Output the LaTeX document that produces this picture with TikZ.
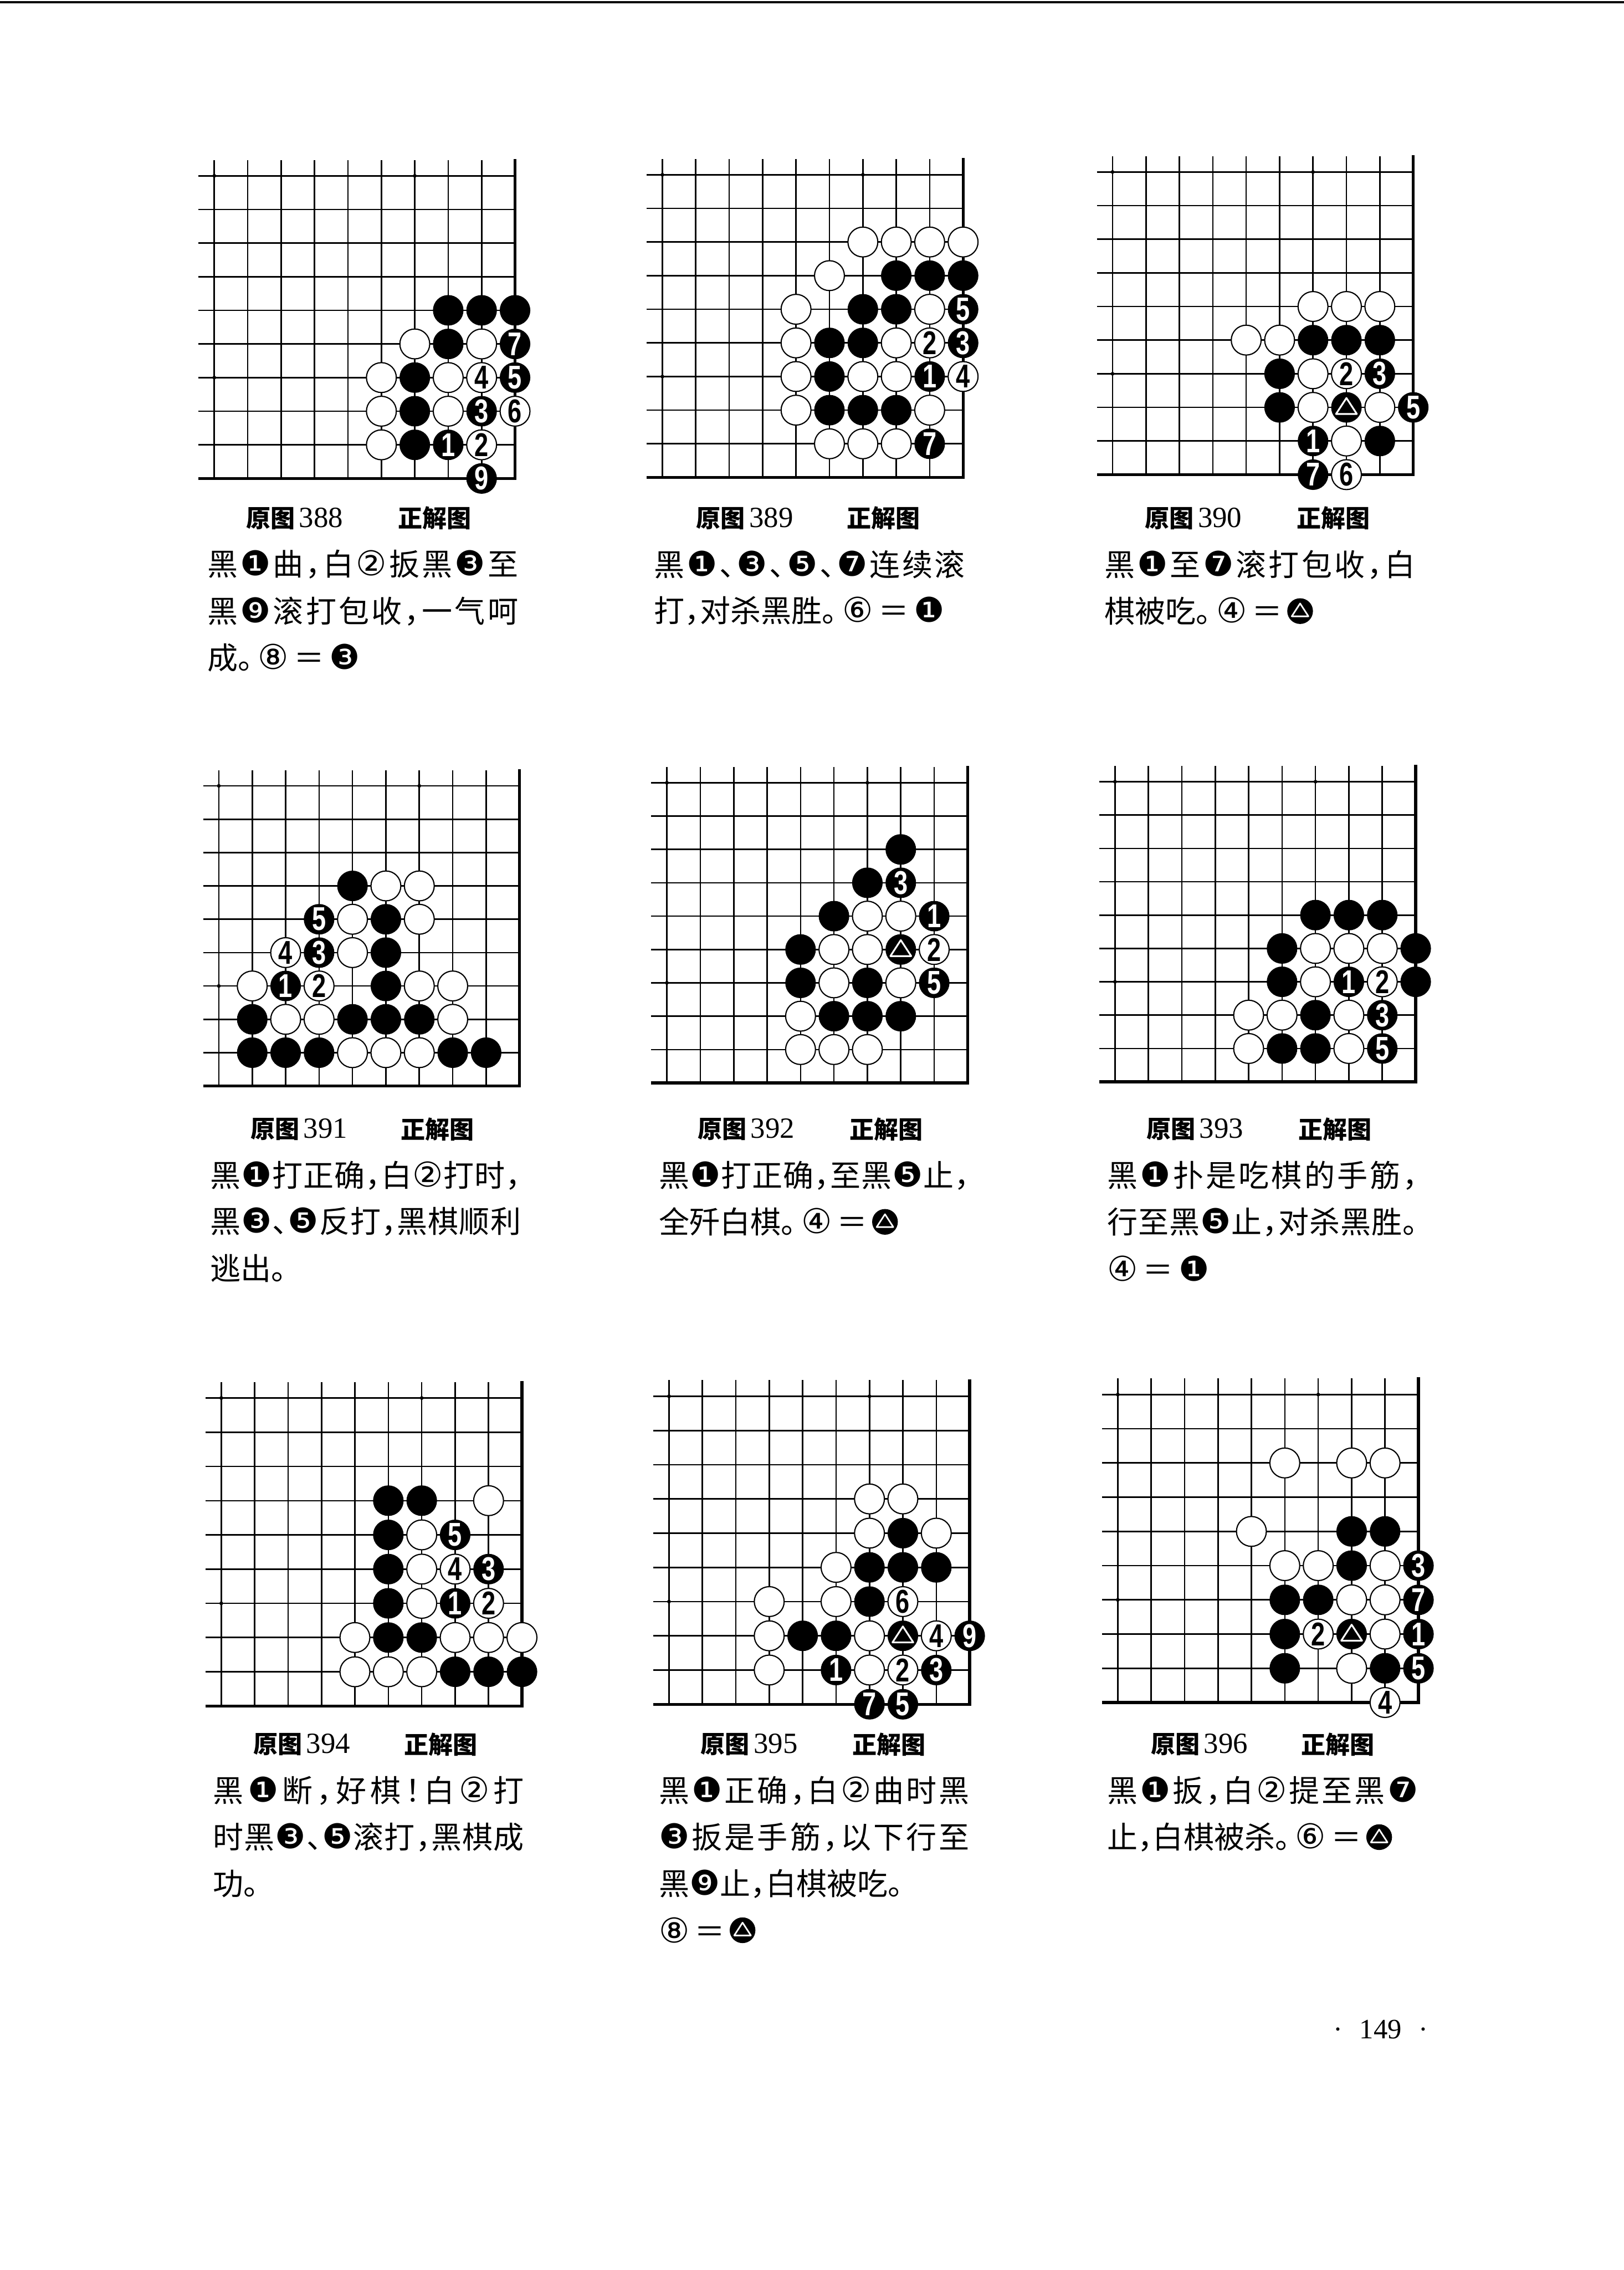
\documentclass[tikz,border=0pt]{standalone}
\usepackage{fontspec}
\setmainfont{Liberation Serif}
\newfontfamily\cjk[RawFeature=+halt]{Noto Sans CJK SC}
\newfontfamily\sym{DejaVu Sans}
\newfontfamily\numfont[FakeStretch=0.76]{Liberation Sans}
\usetikzlibrary{positioning}
\newcommand{\Bn}[1]{{\sym\fontsize{28}{25}\selectfont#1}}
% circled move numbers in the text, one token each
\newcommand{\kA}{\Bn{❶}}
\newcommand{\kC}{\Bn{❸}}
\newcommand{\kE}{\Bn{❺}}
\newcommand{\kG}{\Bn{❼}}
\newcommand{\kI}{\Bn{❾}}
\newcommand{\wB}{\Bn{②}}
\newcommand{\wD}{\Bn{④}}
\newcommand{\wF}{\Bn{⑥}}
\newcommand{\wH}{\Bn{⑧}}
\newcommand{\capnum}{\rmfamily\mdseries\fontsize{24}{24}\selectfont}
% full text line, spread to the column width
\def\spreadit#1{#1\spreadnext}
\def\spreadnext#1{\ifx#1\relax\else\hfil#1\expandafter\spreadnext\fi}
\newcommand{\jline}[1]{\makebox[8.95cm][s]{\spreadit#1\relax}}
% one corner of the board: 10x10 lines, edge on the right and bottom
\newcommand{\goboard}{%
  \foreach \i in {0,...,8} {
    \draw[gline] (\i,-0.47) -- (\i,9);
    \draw[gline] (-0.47,\i) -- (9,\i);
  }
  \draw[eline] (9,-0.5) -- (9,9) -- (-0.47,9);
  \foreach \p/\q in {0/0,6/0,0/6,6/6} \fill (\p,\q) circle (0.055);
}

\begin{document}
\begin{tikzpicture}[x=1cm, y=-1cm,
  gline/.style={line width=0.042cm},
  eline/.style={line width=0.085cm},
  bst/.style={circle, fill=black, minimum size=0.88cm, inner sep=0pt,
    text=white, font=\numfont\bfseries\fontsize{27}{27}\selectfont},
  wst/.style={circle, draw=black, fill=white, line width=0.034cm,
    minimum size=0.86cm, inner sep=0pt,
    font=\numfont\bfseries\fontsize{27}{27}\selectfont},
  tst/.style={bst, path picture={\draw[white, line width=0.05cm, line join=round]
    ([yshift=0.27cm]path picture bounding box.center) -- ++(-0.3cm,-0.46cm)
    -- ++(0.6cm,0cm) -- cycle;}},
  tmk/.style={circle, fill=black, minimum size=0.74cm, inner sep=0pt,
    path picture={\draw[white, line width=0.045cm, line join=round]
    ([yshift=0.22cm]path picture bounding box.center) -- ++(-0.24cm,-0.37cm)
    -- ++(0.48cm,0cm) -- cycle;}},
  txt/.style={anchor=west, inner sep=0pt, font=\cjk\fontsize{25}{25}\selectfont},
  capt/.style={anchor=west, inner sep=0pt, font=\cjk\bfseries\fontsize{20}{20}\selectfont}]

\useasboundingbox (0,0) rectangle (46.75,65.34);
\draw[line width=0.06cm] (0,0.06) -- (46.75,0.06);

% ===== 388 =====
\begin{scope}[shift={(6.17,5.06)}, x=0.962cm, y=-0.968cm]
\goboard
\foreach \c/\r in {7/4,8/4,9/4,7/5,6/6,6/7,6/8}
  \node[bst] (k388-\c-\r) at (\c,\r) {};
\foreach \c/\r/\n in {9/5/7,9/6/5,8/7/3,7/8/1,8/9/9}
  \node[bst] (k388-\c-\r) at (\c,\r) {\n};
\foreach \c/\r in {6/5,8/5,5/6,7/6,5/7,7/7,5/8}
  \node[wst] (w388-\c-\r) at (\c,\r) {};
\foreach \c/\r/\n in {8/6/4,9/7/6,8/8/2}
  \node[wst] (w388-\c-\r) at (\c,\r) {\n};
\end{scope}

% ===== 389 =====
\begin{scope}[shift={(19.07,5.03)}, x=0.962cm, y=-0.968cm]
\goboard
\foreach \c/\r in {7/3,8/3,9/3,6/4,7/4,5/5,6/5,5/6,5/7,6/7,7/7}
  \node[bst] (k389-\c-\r) at (\c,\r) {};
\foreach \c/\r/\n in {9/4/5,9/5/3,8/6/1,8/8/7}
  \node[bst] (k389-\c-\r) at (\c,\r) {\n};
\foreach \c/\r in {6/2,7/2,8/2,9/2,5/3,4/4,8/4,4/5,7/5,4/6,6/6,7/6,4/7,8/7,5/8,6/8,7/8}
  \node[wst] (w389-\c-\r) at (\c,\r) {};
\foreach \c/\r/\n in {8/5/2,9/6/4}
  \node[wst] (w389-\c-\r) at (\c,\r) {\n};
\end{scope}

% ===== 390 =====
\begin{scope}[shift={(32.03,4.95)}, x=0.962cm, y=-0.968cm]
\goboard
\foreach \c/\r in {6/5,7/5,8/5,5/6,5/7,8/8}
  \node[bst] (k390-\c-\r) at (\c,\r) {};
\foreach \c/\r/\n in {8/6/3,9/7/5,6/8/1,6/9/7}
  \node[bst] (k390-\c-\r) at (\c,\r) {\n};
\node[tst] (k390-7-7) at (7,7) {};
\foreach \c/\r in {6/4,7/4,8/4,4/5,5/5,6/6,6/7,8/7,7/8}
  \node[wst] (w390-\c-\r) at (\c,\r) {};
\foreach \c/\r/\n in {7/6/2,7/9/6}
  \node[wst] (w390-\c-\r) at (\c,\r) {\n};
\end{scope}

% ===== 391 =====
\begin{scope}[shift={(6.30,22.62)}, x=0.962cm, y=-0.96cm]
\goboard
\foreach \c/\r in {4/3,5/4,5/5,5/6,1/7,4/7,5/7,6/7,1/8,2/8,3/8,7/8,8/8}
  \node[bst] (k391-\c-\r) at (\c,\r) {};
\foreach \c/\r/\n in {3/4/5,3/5/3,2/6/1}
  \node[bst] (k391-\c-\r) at (\c,\r) {\n};
\foreach \c/\r in {5/3,6/3,4/4,6/4,4/5,1/6,6/6,7/6,2/7,3/7,7/7,4/8,5/8,6/8}
  \node[wst] (w391-\c-\r) at (\c,\r) {};
\foreach \c/\r/\n in {2/5/4,3/6/2}
  \node[wst] (w391-\c-\r) at (\c,\r) {\n};
\end{scope}

% ===== 392 =====
\begin{scope}[shift={(19.20,22.53)}, x=0.962cm, y=-0.96cm]
\goboard
\foreach \c/\r in {7/2,6/3,5/4,4/5,4/6,6/6,5/7,6/7,7/7}
  \node[bst] (k392-\c-\r) at (\c,\r) {};
\foreach \c/\r/\n in {7/3/3,8/4/1,8/6/5}
  \node[bst] (k392-\c-\r) at (\c,\r) {\n};
\node[tst] (k392-7-5) at (7,5) {};
\foreach \c/\r in {6/4,7/4,5/5,6/5,5/6,7/6,4/7,4/8,5/8,6/8}
  \node[wst] (w392-\c-\r) at (\c,\r) {};
\node[wst] (w392-8-5) at (8,5) {2};
\end{scope}

% ===== 393 =====
\begin{scope}[shift={(32.10,22.50)}, x=0.962cm, y=-0.96cm]
\goboard
\foreach \c/\r in {6/4,7/4,8/4,5/5,9/5,5/6,9/6,6/7,5/8,6/8}
  \node[bst] (k393-\c-\r) at (\c,\r) {};
\foreach \c/\r/\n in {7/6/1,8/7/3,8/8/5}
  \node[bst] (k393-\c-\r) at (\c,\r) {\n};
\foreach \c/\r in {6/5,7/5,8/5,6/6,4/7,5/7,7/7,4/8,7/8}
  \node[wst] (w393-\c-\r) at (\c,\r) {};
\node[wst] (w393-8-6) at (8,6) {2};
\end{scope}

% ===== 394 =====
\begin{scope}[shift={(6.37,40.24)}, x=0.962cm, y=-0.985cm]
\goboard
\foreach \c/\r in {5/3,6/3,5/4,5/5,5/6,5/7,6/7,7/8,8/8,9/8}
  \node[bst] (k394-\c-\r) at (\c,\r) {};
\foreach \c/\r/\n in {7/4/5,8/5/3,7/6/1}
  \node[bst] (k394-\c-\r) at (\c,\r) {\n};
\foreach \c/\r in {8/3,6/4,6/5,6/6,4/7,7/7,8/7,9/7,4/8,5/8,6/8}
  \node[wst] (w394-\c-\r) at (\c,\r) {};
\foreach \c/\r/\n in {7/5/4,8/6/2}
  \node[wst] (w394-\c-\r) at (\c,\r) {\n};
\end{scope}

% ===== 395 =====
\begin{scope}[shift={(19.26,40.19)}, x=0.962cm, y=-0.985cm]
\goboard
\foreach \c/\r in {7/4,6/5,7/5,8/5,6/6,4/7,5/7}
  \node[bst] (k395-\c-\r) at (\c,\r) {};
\foreach \c/\r/\n in {9/7/9,5/8/1,8/8/3,6/9/7,7/9/5}
  \node[bst] (k395-\c-\r) at (\c,\r) {\n};
\node[tst] (k395-7-7) at (7,7) {};
\foreach \c/\r in {6/3,7/3,6/4,8/4,5/5,3/6,5/6,3/7,6/7,3/8,6/8}
  \node[wst] (w395-\c-\r) at (\c,\r) {};
\foreach \c/\r/\n in {7/6/6,8/7/4,7/8/2}
  \node[wst] (w395-\c-\r) at (\c,\r) {\n};
\end{scope}

% ===== 396 =====
\begin{scope}[shift={(32.18,40.14)}, x=0.962cm, y=-0.985cm]
\goboard
\foreach \c/\r in {7/4,8/4,7/5,5/6,6/6,5/7,5/8,8/8}
  \node[bst] (k396-\c-\r) at (\c,\r) {};
\foreach \c/\r/\n in {9/5/3,9/6/7,9/7/1,9/8/5}
  \node[bst] (k396-\c-\r) at (\c,\r) {\n};
\node[tst] (k396-7-7) at (7,7) {};
\foreach \c/\r in {5/2,7/2,8/2,4/4,5/5,6/5,8/5,7/6,8/6,8/7,7/8}
  \node[wst] (w396-\c-\r) at (\c,\r) {};
\foreach \c/\r/\n in {6/7/2,8/9/4}
  \node[wst] (w396-\c-\r) at (\c,\r) {\n};
\end{scope}

% ===== captions, row 1 =====
\node[capt] (c388) at (7.08,14.92) {原图\,{\capnum 388}};
\node[capt] (s388) at (11.46,14.92) {正解图};
\node[txt] (t388a) at (5.96,16.25) {\jline{黑\kA 曲，白\wB 扳黑\kC 至}};
\node[txt] (t388b) at (5.96,17.59) {\jline{黑\kI 滚打包收，一气呵}};
\node[txt] (t388c) at (5.96,18.93) {成。\,\wH\,＝\,\kC};

\node[capt] (c389) at (20.04,14.92) {原图\,{\capnum 389}};
\node[capt] (s389) at (24.37,14.92) {正解图};
\node[txt] (t389a) at (18.83,16.25) {\jline{黑\kA 、\kC 、\kE 、\kG 连续滚}};
\node[txt] (t389b) at (18.83,17.59) {打，对杀黑胜。\,\wF\,＝\,\kA};

\node[capt] (c390) at (32.96,14.92) {原图\,{\capnum 390}};
\node[capt] (s390) at (37.33,14.92) {正解图};
\node[txt] (t390a) at (31.79,16.25) {\jline{黑\kA 至\kG 滚打包收，白}};
\node[txt] (t390b) at (31.79,17.59) {棋被吃。\,\wD\,＝};
\node[tmk, right=0.12cm of t390b] (m390) {};

% ===== captions, row 2 =====
\node[capt] (c391) at (7.21,32.50) {原图\,{\capnum 391}};
\node[capt] (s391) at (11.54,32.50) {正解图};
\node[txt] (t391a) at (6.04,33.83) {\jline{黑\kA 打正确，白\wB 打时，}};
\node[txt] (t391b) at (6.04,35.17) {\jline{黑\kC 、\kE 反打，黑棋顺利}};
\node[txt] (t391c) at (6.04,36.51) {逃出。};

\node[capt] (c392) at (20.08,32.50) {原图\,{\capnum 392}};
\node[capt] (s392) at (24.46,32.50) {正解图};
\node[txt] (t392a) at (18.96,33.83) {\jline{黑\kA 打正确，至黑\kE 止，}};
\node[txt] (t392b) at (18.96,35.17) {全歼白棋。\,\wD\,＝};
\node[tmk, right=0.12cm of t392b] (m392) {};

\node[capt] (c393) at (33.00,32.50) {原图\,{\capnum 393}};
\node[capt] (s393) at (37.38,32.50) {正解图};
\node[txt] (t393a) at (31.87,33.83) {\jline{黑\kA 扑是吃棋的手筋，}};
\node[txt] (t393b) at (31.87,35.17) {\jline{行至黑\kE 止，对杀黑胜。}};
\node[txt] (t393c) at (31.87,36.51) {\wD\,＝\,\kA};

% ===== captions, row 3 =====
\node[capt] (c394) at (7.29,50.21) {原图\,{\capnum 394}};
\node[capt] (s394) at (11.63,50.21) {正解图};
\node[txt] (t394a) at (6.13,51.54) {\jline{黑\kA 断，好棋！白\wB 打}};
\node[txt] (t394b) at (6.13,52.88) {\jline{时黑\kC 、\kE 滚打，黑棋成}};
\node[txt] (t394c) at (6.13,54.22) {功。};

\node[capt] (c395) at (20.17,50.21) {原图\,{\capnum 395}};
\node[capt] (s395) at (24.54,50.21) {正解图};
\node[txt] (t395a) at (18.96,51.54) {\jline{黑\kA 正确，白\wB 曲时黑}};
\node[txt] (t395b) at (18.96,52.88) {\jline{\kC 扳是手筋，以下行至}};
\node[txt] (t395c) at (18.96,54.22) {黑\kI 止，白棋被吃。};
\node[txt] (t395d) at (18.96,55.56) {\wH\,＝};
\node[tmk, right=0.12cm of t395d] (m395) {};

\node[capt] (c396) at (33.13,50.21) {原图\,{\capnum 396}};
\node[capt] (s396) at (37.46,50.21) {正解图};
\node[txt] (t396a) at (31.87,51.54) {\jline{黑\kA 扳，白\wB 提至黑\kG}};
\node[txt] (t396b) at (31.87,52.88) {止，白棋被杀。\,\wF\,＝};
\node[tmk, right=0.12cm of t396b] (m396) {};

% ===== page number =====
\node[font=\rmfamily\fontsize{23}{23}\selectfont] (pg) at (39.75,58.42) {·\hspace{0.6em}149\hspace{0.6em}·};

\end{tikzpicture}
\end{document}
